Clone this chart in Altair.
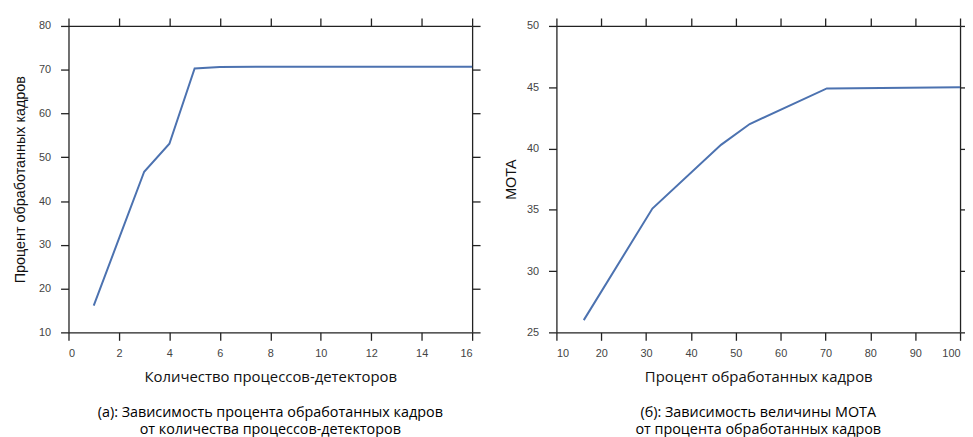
import altair as alt
import pandas as pd

# Panel (a): number of detector processes vs percent of processed frames
procs = [1, 2, 3, 4, 5, 6, 8, 10, 12, 14, 16]
pct_frames = [16.1, 31.4, 46.7, 53.1, 70.3, 70.6, 70.7, 70.7, 70.7, 70.7, 70.7]

# Panel (b): percent of processed frames vs MOTA
pct_b = [16.1, 31.4, 46.7, 53.1, 70.3, 70.7, 100]
mota = [26.0, 35.1, 40.3, 42.0, 44.9, 44.9, 45.0]

x_ticks_a = [0, 2, 4, 6, 8, 10, 12, 14, 16]
y_ticks_a = [10, 20, 30, 40, 50, 60, 70, 80]
x_ticks_b = [10, 20, 30, 40, 50, 60, 70, 80, 90, 100]
y_ticks_b = [25, 30, 35, 40, 45, 50]

LINE = "#4c72b0"
W, H = 407, 309


def panel(df, xf, yf, xdom, ydom, xt, yt, xtitle, ytitle, caption, ytpad):
    base = alt.Chart(df)
    main = base.mark_line(color=LINE, strokeWidth=2).encode(
        x=alt.X(f"{xf}:Q", scale=alt.Scale(domain=xdom, nice=False, zero=False),
                axis=alt.Axis(orient="bottom", values=xt, title=xtitle, grid=False,
                              titleFont="Open Sans", titleFontSize=15,
                              titleFontWeight="normal", titleColor="#111",
                              titlePadding=12, labelPadding=7)),
        y=alt.Y(f"{yf}:Q", scale=alt.Scale(domain=ydom, nice=False, zero=False),
                axis=alt.Axis(orient="left", values=yt, title=ytitle, grid=False,
                              titleFont="Liberation Sans", titleFontSize=14.5,
                              titleFontWeight="normal", titleColor="#111",
                              titlePadding=ytpad, labelPadding=10)),
    )
    frame = base.mark_line(opacity=0).encode(
        x=alt.X(f"{xf}:Q", scale=alt.Scale(domain=xdom, nice=False, zero=False),
                axis=alt.Axis(orient="top", values=xt, labels=False, title=None, grid=False)),
        y=alt.Y(f"{yf}:Q", scale=alt.Scale(domain=ydom, nice=False, zero=False),
                axis=alt.Axis(orient="right", values=yt, labels=False, title=None, grid=False)),
    )
    return (
        alt.layer(main, frame)
        .resolve_scale(x="independent", y="independent")
        .properties(
            width=W, height=H,
            title=alt.TitleParams(caption, orient="bottom", anchor="middle",
                                  font="Open Sans", fontSize=14.5,
                                  fontWeight="normal", color="#000",
                                  lineHeight=17.5, offset=21),
        )
    )


df_a = pd.DataFrame({"procs": procs, "pct": pct_frames})
df_b = pd.DataFrame({"pct": pct_b, "mota": mota})

left = panel(df_a, "procs", "pct", [0, 16], [10, 80], x_ticks_a, y_ticks_a,
             "Количество процессов-детекторов", "Процент обработанных кадров",
             ["(а): Зависимость процента обработанных кадров",
              "от количества процессов-детекторов"], 11)
right = panel(df_b, "pct", "mota", [10, 100], [25, 50], x_ticks_b, y_ticks_b,
              "Процент обработанных кадров", "MOTA",
              ["(б): Зависимость величины MOTA",
               "от процента обработанных кадров"], 8)

chart = (
    alt.hconcat(left, right, spacing=22)
    .properties(padding={"left": 61, "top": 15, "right": 904, "bottom": 414},
                autosize=alt.AutoSizeParams(type="none"),
                background="white")
    .configure_view(stroke=None)
    .configure_axis(
        grid=False,
        domainColor="#222", domainWidth=1.3,
        tickColor="#222", tickWidth=1.3, tickSize=8,
        labelColor="#444", labelFont="Liberation Sans", labelFontSize=11,
    )
)

chart.save("out.html", embed_options={"renderer": "svg", "actions": False})
